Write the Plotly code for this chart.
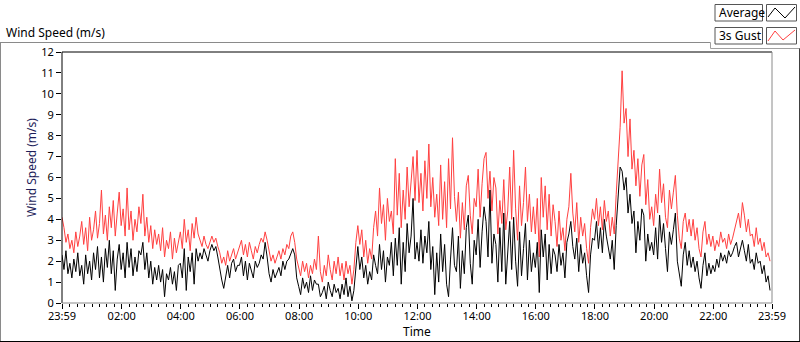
import plotly.graph_objects as go
import pandas as pd

# 4-minute samples starting 23:59 (previous day)
gust = [
 4.1,3.6,2.9,3.3,2.6,3.0,2.4,3.4,2.7,3.2,
 3.9,2.8,3.6,2.5,4.1,3.0,3.5,4.4,3.1,3.8,
 5.4,3.3,4.2,3.0,4.6,3.6,4.9,3.2,4.3,5.3,
 3.7,4.5,3.2,5.5,3.5,4.4,3.0,4.0,3.4,4.6,
 3.8,5.2,3.2,4.1,2.9,3.7,2.6,3.5,2.8,3.3,
 2.5,3.6,2.2,3.0,2.6,3.4,2.1,3.1,2.4,2.9,
 3.4,2.6,4.0,2.9,3.5,2.5,3.8,3.1,4.1,3.3,
 3.0,2.7,3.2,2.8,2.6,2.9,3.2,2.9,3.1,2.7,
 2.4,1.9,2.2,1.8,2.5,2.0,2.3,2.6,2.1,2.4,
 2.6,3.0,2.3,2.8,2.2,2.9,2.5,2.1,2.7,2.4,
 2.8,3.1,2.9,3.4,3.0,2.4,2.0,2.3,1.9,2.2,
 2.5,2.1,2.6,2.3,2.8,2.6,3.2,3.4,2.9,2.1,
 1.7,1.3,2.0,1.5,1.9,1.2,1.8,1.4,2.1,1.6,
 3.2,1.5,1.0,1.8,1.3,2.3,1.6,1.1,2.0,1.4,
 2.2,1.3,1.9,1.1,2.0,1.4,1.8,0.9,1.6,2.9,
 3.7,2.8,3.5,2.2,3.0,1.9,2.6,2.1,3.6,4.4,
 3.2,5.5,3.8,4.7,3.0,5.0,3.9,4.4,3.3,6.9,
 4.2,6.2,3.6,5.4,4.0,6.5,4.6,5.8,7.0,4.9,
 7.3,4.8,6.2,4.4,6.8,5.0,7.6,4.6,6.0,4.1,
 5.2,3.7,6.6,4.0,5.8,3.6,6.9,4.5,7.9,5.1,
 3.9,5.3,3.1,4.8,3.5,5.6,6.1,4.2,3.3,5.0,
 4.6,6.4,4.1,5.7,6.9,7.2,5.0,6.3,4.4,6.0,
 5.5,3.3,4.9,3.8,5.9,3.5,4.4,6.5,4.0,7.3,
 4.5,3.0,5.6,3.7,4.8,6.5,3.9,5.2,3.4,4.6,
 3.3,5.0,2.2,6.0,4.1,5.6,3.5,5.2,3.2,4.7,
 3.9,2.7,4.4,3.0,3.6,2.5,4.0,4.6,6.2,4.3,
 3.4,4.8,2.9,4.1,3.2,3.8,2.6,1.9,3.6,4.5,
 4.0,5.0,3.7,4.6,3.5,4.9,3.9,4.4,3.2,4.1,
 3.3,5.2,6.8,8.4,11.1,8.6,9.3,7.0,8.8,6.4,
 7.3,5.6,6.9,5.1,6.6,7.1,4.7,5.9,4.0,4.6,
 3.7,5.2,4.3,6.4,4.8,5.7,4.1,3.6,5.4,4.5,
 5.3,6.1,4.2,3.1,2.6,3.9,4.3,3.4,4.0,3.2,
 4.0,3.0,3.6,2.6,2.2,3.4,3.9,2.8,3.3,2.7,
 3.2,2.5,3.0,2.7,3.4,2.9,3.1,2.6,3.3,2.8,
 3.1,3.5,3.9,4.3,3.6,4.8,4.2,3.4,4.0,3.2,
 3.3,2.7,3.6,2.8,3.1,2.5,2.9,2.2,2.4,2.0,
]
average = [
 2.3,1.6,2.5,1.4,1.9,1.2,2.1,1.5,2.4,1.3,
 1.8,0.9,2.3,1.4,2.0,1.1,2.4,1.6,2.7,1.2,
 2.2,1.0,2.6,1.7,3.0,1.4,2.5,0.6,2.1,2.8,
 1.6,2.4,1.2,2.9,1.7,2.6,1.3,2.2,1.5,2.5,
 2.3,2.9,1.6,2.4,1.2,2.0,0.9,1.7,1.1,1.8,
 1.0,1.6,0.3,1.4,1.1,1.7,0.9,1.5,0.6,1.8,
 1.9,1.2,2.6,0.6,2.2,1.5,2.4,0.9,2.6,2.0,
 2.4,2.1,2.6,2.3,2.0,2.5,2.8,2.5,2.7,2.2,
 1.6,1.1,0.7,1.3,1.8,1.2,1.9,2.1,1.5,1.8,
 1.8,2.2,1.3,2.0,1.1,1.9,1.6,1.2,2.0,1.7,
 1.9,2.3,2.1,2.9,2.2,1.4,1.0,1.6,1.2,1.5,
 1.7,1.3,2.0,1.6,2.0,2.1,2.4,2.6,2.3,1.2,
 0.8,0.4,1.2,0.7,1.0,0.5,1.3,0.6,1.1,0.9,
 0.9,0.3,0.5,0.8,0.2,1.0,0.6,0.3,0.9,0.5,
 0.7,0.2,0.9,0.4,1.2,0.3,0.8,0.1,0.6,1.8,
 2.7,1.6,2.2,1.2,1.8,0.9,1.5,1.1,2.3,1.8,
 1.4,2.8,1.6,2.5,1.0,2.2,1.8,2.9,1.3,3.1,
 1.8,3.6,0.9,2.9,1.5,3.8,2.4,3.2,5.0,2.1,
 2.9,2.0,3.5,1.9,3.2,2.4,3.9,1.6,2.7,0.4,
 2.4,1.0,3.3,1.5,2.8,0.9,0.3,2.1,3.6,1.8,
 1.5,3.2,0.7,2.5,1.4,3.6,4.2,1.9,0.9,3.0,
 2.3,4.0,1.7,3.4,4.6,3.9,2.2,5.4,1.9,3.3,
 2.8,1.0,3.6,1.5,4.3,0.9,2.2,3.9,1.6,4.1,
 2.0,0.8,3.4,1.3,2.6,3.8,1.1,3.0,1.5,2.4,
 1.7,2.9,0.5,3.5,2.2,3.3,1.1,2.8,1.4,2.6,
 2.3,1.5,2.8,1.8,2.4,1.2,2.9,3.3,3.9,2.7,
 2.1,3.1,1.5,2.8,1.9,2.4,1.3,0.5,2.3,3.1,
 3.0,3.9,2.6,3.6,2.4,4.0,3.2,2.7,2.1,3.0,
 1.6,3.7,5.0,6.5,6.3,5.4,6.0,4.3,5.2,3.8,
 4.4,2.4,3.9,3.0,4.5,4.2,2.0,3.3,2.5,2.9,
 2.3,3.6,2.1,4.2,2.9,3.8,2.6,1.5,3.4,2.8,
 3.5,4.3,2.0,1.4,0.8,2.3,2.9,1.8,2.5,1.7,
 2.2,1.5,2.0,1.2,0.7,1.8,2.4,1.3,1.9,1.4,
 1.8,1.5,2.1,1.7,2.4,2.0,2.3,1.9,2.5,2.2,
 2.4,2.7,2.9,2.2,2.6,3.0,2.5,2.0,2.8,1.9,
 2.1,1.6,2.4,1.9,2.0,1.4,1.8,1.0,1.3,0.6,
]
tick_labels = ["23:59", "02:00", "04:00", "06:00", "08:00", "10:00", "12:00",
               "14:00", "16:00", "18:00", "20:00", "22:00", "23:59"]
y_ticks = list(range(0, 13))

start = pd.Timestamp("2024-01-01 23:59")
end = pd.Timestamp("2024-01-02 23:59")
times = pd.date_range(start, periods=len(gust), freq="4min")
day = pd.Timestamp("2024-01-02 00:00")
tick_vals = [start] + [day + pd.Timedelta(hours=h) for h in range(2, 24, 2)] + [end]
minor_vals = [day + pd.Timedelta(minutes=m) for m in range(0, 1440, 15) if m % 120 != 0]

# pixel -> paper helpers (plot area 62..772 x, 52..303 y)
L, R, T, B = 62, 772, 52, 303
def px(x): return (x - L) / (R - L)
def py(y): return (B - y) / (B - T)

fig = go.Figure()
fig.add_trace(go.Scatter(x=times, y=gust, mode="lines", name="3s Gust",
                         line=dict(color="#ff4040", width=1)))
fig.add_trace(go.Scatter(x=times, y=average, mode="lines", name="Average",
                         line=dict(color="#000000", width=1)))

font = "Noto Sans"
fig.update_layout(
    width=800, height=342,
    margin=dict(l=L, r=800 - R, t=T, b=342 - B),
    paper_bgcolor="white", plot_bgcolor="white",
    showlegend=False,
    font=dict(family=font, size=11, color="#000000"),
    xaxis=dict(type="date", range=[start, end], tickmode="array",
               tickvals=tick_vals, ticktext=tick_labels,
               ticks="outside", ticklen=5, tickcolor="#000", tickwidth=1,
               ticklabelstandoff=-2,
               showgrid=False, zeroline=False, showline=False,
               tickfont=dict(family=font, size=11, color="#000"),
               minor=dict(tickmode="array", tickvals=minor_vals, ticks="outside",
                          ticklen=3, tickcolor="#000", tickwidth=1, showgrid=False)),
    yaxis=dict(range=[0, 12], tickmode="array", tickvals=y_ticks,
               ticks="outside", ticklen=5, tickcolor="#000", tickwidth=1,
               showgrid=False, zeroline=False, showline=False,
               tickfont=dict(family=font, size=11, color="#000")),
)

shapes = []
def line(x0, y0, x1, y1, color, w=1):
    shapes.append(dict(type="line", xref="paper", yref="paper",
                       x0=px(x0), y0=py(y0), x1=px(x1), y1=py(y1),
                       line=dict(color=color, width=w), layer="above"))
def rect(x0, y0, x1, y1, color):
    shapes.append(dict(type="rect", xref="paper", yref="paper",
                       x0=px(x0), y0=py(y0), x1=px(x1), y1=py(y1),
                       line=dict(color=color, width=1), fillcolor="white", layer="above"))

# outer frame
line(0, 42.5, 710.5, 42.5, "#8a8a8a")
line(0.5, 42.5, 0.5, 342, "#8a8a8a")
line(710.5, 42.5, 710.5, 48.5, "#a0a0a0")
line(710.5, 48.5, 800, 48.5, "#a0a0a0")
line(799.5, 48.5, 799.5, 342, "#404040")
line(0, 341.5, 800, 341.5, "#000000")
# plot frame
line(L, T, R, T, "#000000")
line(L, T, L, B, "#000000")
line(R, T, R, B, "#8a8a8a")
line(L, B, R, B, "#8a8a8a")
# legend boxes
rect(715, 4.5, 762.5, 21, "#555555")
rect(766.5, 4.5, 796.5, 21, "#555555")
rect(715, 27.5, 762.5, 44, "#555555")
rect(766.5, 27.5, 796.5, 44, "#555555")
def path(pts, color):
    d = "M " + " L ".join(f"{px(a)},{py(b)}" for a, b in pts)
    shapes.append(dict(type="path", xref="paper", yref="paper", path=d,
                       line=dict(color=color, width=1), layer="above"))
path([(768, 17), (775, 8), (785, 18), (795, 7)], "#000000")
path([(768, 41), (775, 31), (783, 40), (795, 30)], "#ff4040")
fig.update_layout(shapes=shapes)

ann = [
    dict(text="Wind Speed (m/s)", x=px(4), y=py(32), xanchor="left", yanchor="middle",
         font=dict(size=12, color="#000")),
    dict(text="Wind Speed (m/s)", x=px(31), y=py(168), xanchor="center", yanchor="middle",
         textangle=-90, font=dict(size=12, color="#1e1e5a")),
    dict(text="Time", x=px(417), y=py(331.5), xanchor="center", yanchor="middle",
         font=dict(size=12, color="#000")),
    dict(text="Average", x=px(717), y=py(12.8), xanchor="left", yanchor="middle",
         font=dict(size=12, color="#000")),
    dict(text="3s Gust", x=px(717), y=py(35.8), xanchor="left", yanchor="middle",
         font=dict(size=12, color="#000")),
]
for a in ann:
    a.update(xref="paper", yref="paper", showarrow=False)
fig.update_layout(annotations=ann)

fig.write_html("out.html", config={"displayModeBar": False},
               post_script="document.body.style.margin='0';document.body.style.overflow='hidden';")
